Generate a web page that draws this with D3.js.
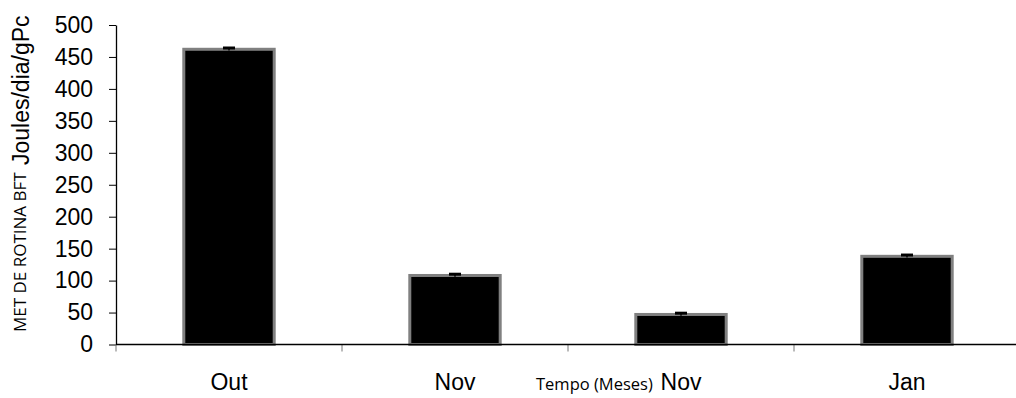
<!DOCTYPE html>
<html>
<head>
<meta charset="utf-8">
<script src="https://cdn.jsdelivr.net/npm/d3@7"></script>
<style>
  html, body { margin: 0; padding: 0; background: #fff; }
  svg { display: block; }
</style>
</head>
<body>
<svg id="chart" width="1016" height="398"></svg>
<script>
// Monthly routine metabolism (Joules/dia/gPc)
const categories = ["Out", "Nov", "Nov", "Jan"];
const values = [462, 108, 47, 138];
const errors = [2, 2, 2, 2];
const yTicks = [0, 50, 100, 150, 200, 250, 300, 350, 400, 450, 500];

const svg = d3.select("#chart");
const plotLeft = 116, plotRight = 1020, plotTop = 25, plotBottom = 344.5;

const x = d3.scaleBand()
  .domain(categories.map((d, i) => i))
  .range([plotLeft, plotRight])
  .paddingInner(0.6)
  .paddingOuter(0.3);

const y = d3.scaleLinear().domain([0, 500]).range([plotBottom, plotTop]);

// y axis
const yAxis = svg.append("g")
  .attr("transform", `translate(${plotLeft},0)`)
  .call(d3.axisLeft(y).tickValues(yTicks).tickSize(7).tickPadding(16).tickSizeOuter(0));
yAxis.select(".domain").attr("stroke", "#000").attr("stroke-width", 1.3);
yAxis.selectAll(".tick line").attr("stroke", "#000");
yAxis.selectAll(".tick text")
  .attr("font-family", "'Liberation Sans', Arial, sans-serif")
  .attr("font-size", 23)
  .attr("fill", "#000");

// category boundary ticks below the x axis
const bounds = d3.range(categories.length + 1).map(i => plotLeft + i * x.step());
svg.append("g").selectAll("line")
  .data(bounds)
  .join("line")
  .attr("x1", d => d).attr("x2", d => d)
  .attr("y1", plotBottom).attr("y2", plotBottom + 7)
  .attr("stroke", "#777").attr("stroke-width", 1);

// bars
svg.append("g").selectAll("rect")
  .data(values)
  .join("rect")
  .attr("x", (d, i) => x(i))
  .attr("width", x.bandwidth())
  .attr("y", d => y(d))
  .attr("height", d => plotBottom - y(d))
  .attr("fill", "#000")
  .attr("stroke", "#808080")
  .attr("stroke-width", 3);

// x axis line
svg.append("line")
  .attr("x1", plotLeft).attr("x2", plotRight)
  .attr("y1", plotBottom).attr("y2", plotBottom)
  .attr("stroke", "#000").attr("stroke-width", 1.3);

// error bars
const eb = svg.append("g");
values.forEach((v, i) => {
  const cx = x(i) + x.bandwidth() / 2;
  eb.append("line")
    .attr("x1", cx).attr("x2", cx)
    .attr("y1", y(v - errors[i])).attr("y2", y(v + errors[i]))
    .attr("stroke", "#000").attr("stroke-width", 1.5);
  eb.append("line")
    .attr("x1", cx - 6).attr("x2", cx + 6)
    .attr("y1", y(v + errors[i])).attr("y2", y(v + errors[i]))
    .attr("stroke", "#000").attr("stroke-width", 3);
});

// category labels
svg.append("g").selectAll("text")
  .data(categories)
  .join("text")
  .attr("x", (d, i) => x(i) + x.bandwidth() / 2)
  .attr("y", 390)
  .attr("text-anchor", "middle")
  .attr("font-family", "'Liberation Sans', Arial, sans-serif")
  .attr("font-size", 23)
  .attr("fill", "#000")
  .text(d => d);

// x axis title
svg.append("text")
  .attr("x", 536)
  .attr("y", 390)
  .attr("font-family", "'Open Sans', 'Liberation Sans', sans-serif")
  .attr("font-size", 16.5)
  .attr("fill", "#000")
  .text("Tempo (Meses)");

// y axis title (two runs, rotated)
svg.append("text")
  .attr("transform", "translate(26,332) rotate(-90)")
  .attr("font-family", "'Open Sans', 'Liberation Sans', sans-serif")
  .attr("font-size", 17)
  .attr("fill", "#000")
  .text("MET DE ROTINA BFT");

svg.append("text")
  .attr("transform", "translate(29,165) rotate(-90)")
  .attr("font-family", "'Liberation Sans', Arial, sans-serif")
  .attr("font-size", 23)
  .attr("fill", "#000")
  .text("Joules/dia/gPc");
</script>
</body>
</html>
